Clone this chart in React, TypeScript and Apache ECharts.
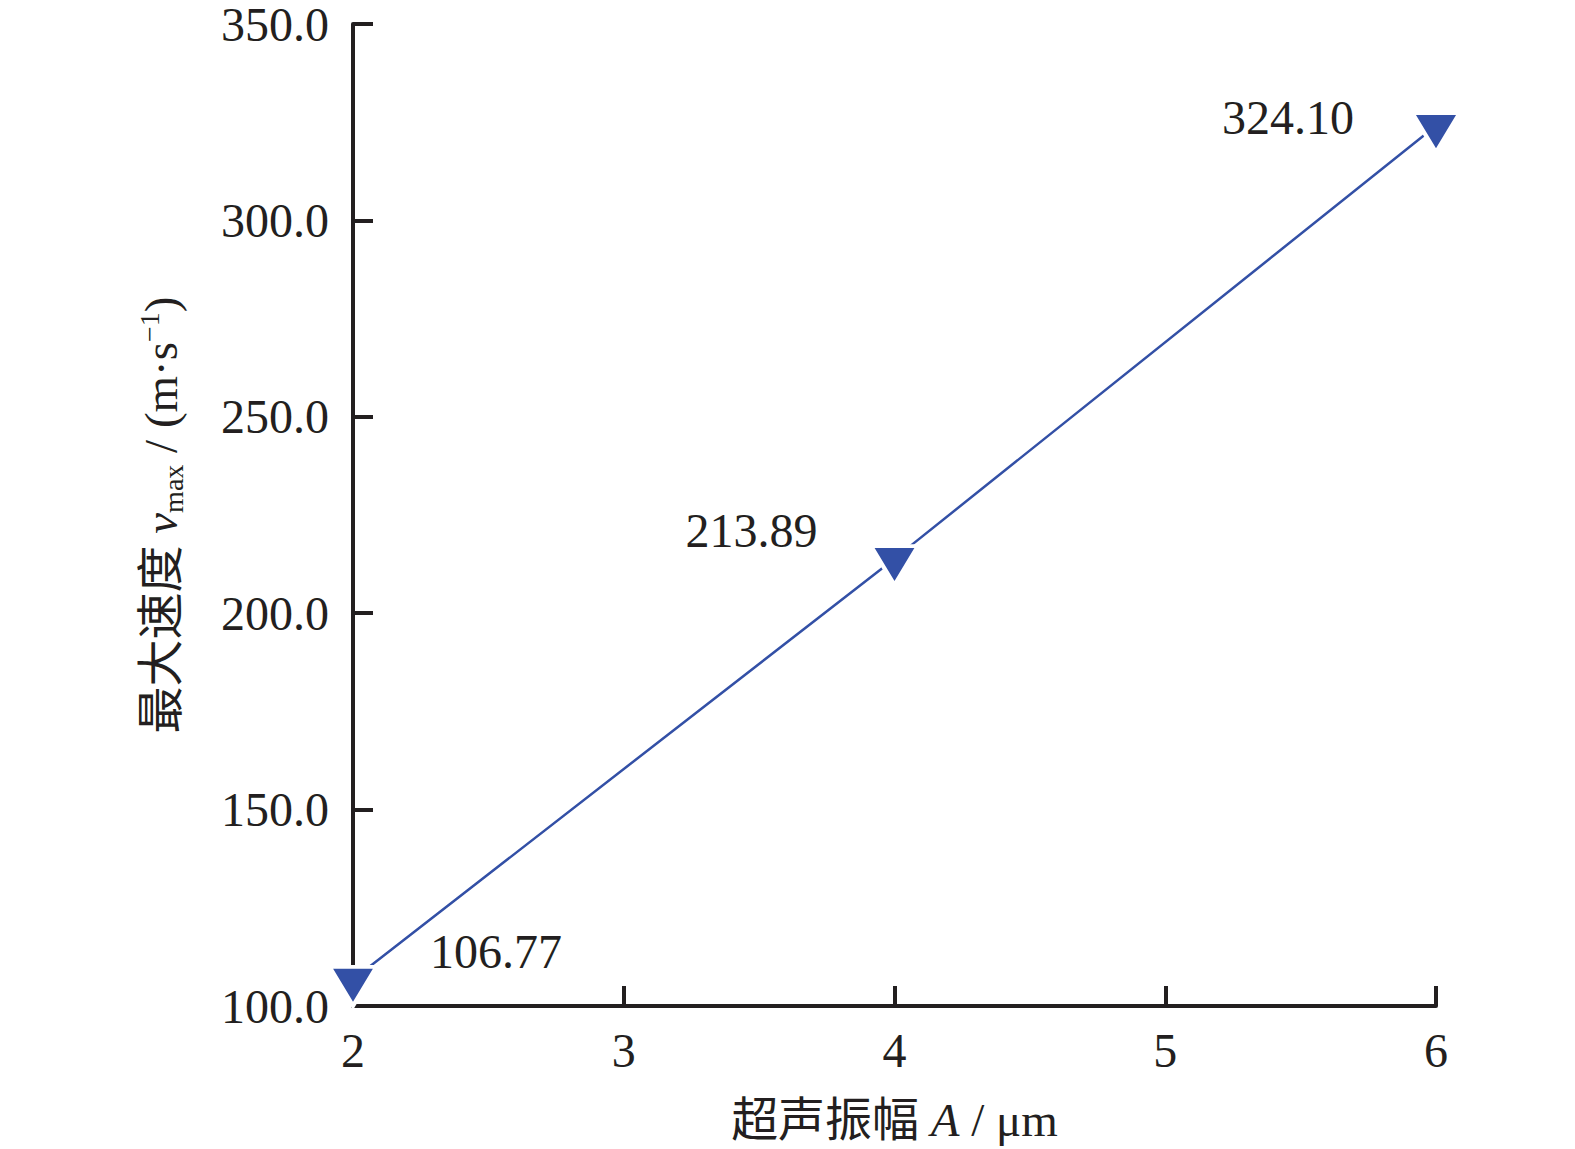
import React, { useEffect, useRef } from "react";
import * as echarts from "echarts";

const amplitudes = [2, 4, 6];
const vmax = [106.77, 213.89, 324.1];
const valueLabels = ["106.77", "213.89", "324.10"];
const labelOffsets = [
  [143, -35],
  [-143, -35],
  [-148, -15],
];

const INK = "#231f20";
const BLUE = "#3350a6";
const FONT = "'Liberation Serif', 'Noto Sans CJK SC', serif";

export default function App() {
  const ref = useRef<HTMLDivElement>(null);
  useEffect(() => {
    if (!ref.current) return;
    const chart = echarts.init(ref.current, undefined, { renderer: "svg" });
    const data = amplitudes.map((x, i) => ({
      value: [x, vmax[i]],
      label: {
        show: true,
        formatter: valueLabels[i],
        position: "inside",
        offset: labelOffsets[i],
      },
    }));
    chart.setOption({
      animation: false,
      backgroundColor: "#ffffff",
      grid: { left: 353, right: 139, top: 19, bottom: 143 },
      xAxis: {
        type: "value",
        min: 2,
        max: 6,
        interval: 1,
        splitLine: { show: false },
        axisLine: { lineStyle: { color: INK, width: 4 } },
        axisTick: { show: true, inside: true, length: 20, lineStyle: { color: INK, width: 4 } },
        axisLabel: { color: INK, fontSize: 48, fontFamily: FONT, margin: 20 },
        name: "{c|超声振幅 }{i|A}{c| / μm}",
        nameLocation: "middle",
        nameGap: 90,
        nameTextStyle: {
          rich: {
            c: { fontSize: 47, fontFamily: FONT, color: INK },
            i: { fontSize: 47, fontFamily: FONT, fontStyle: "italic", color: INK },
          },
        },
      },
      yAxis: {
        type: "value",
        min: 100,
        max: 350,
        interval: 50,
        splitLine: { show: false },
        axisLine: { lineStyle: { color: INK, width: 4 } },
        axisTick: { show: true, inside: true, length: 20, lineStyle: { color: INK, width: 4 } },
        axisLabel: {
          color: INK,
          fontSize: 48,
          lineHeight: 30,
          fontFamily: FONT,
          margin: 24,
          padding: [6, 0, 0, 0],
          formatter: (v: number) => v.toFixed(1),
        },
        name: "{c|最大速度 }{i|v}{sub|max}{c| / (m·s}{sup|−1}{c|)}",
        nameLocation: "middle",
        nameRotate: 90,
        nameGap: 166,
        nameTextStyle: {
          rich: {
            c: { fontSize: 47, fontFamily: FONT, color: INK },
            i: { fontSize: 47, fontFamily: FONT, fontStyle: "italic", color: INK },
            sub: { fontSize: 28, fontFamily: FONT, color: INK, padding: [24, 0, 0, 0] },
            sup: { fontSize: 28, fontFamily: FONT, color: INK, padding: [0, 0, 24, 0] },
          },
        },
      },
      series: [
        {
          type: "line",
          data,
          lineStyle: { color: BLUE, width: 2.5 },
          itemStyle: { color: BLUE, borderColor: "#ffffff", borderWidth: 4 },
          symbol: "path://M0,0 L47,0 L23.5,39 Z",
          symbolSize: [47, 39],
          symbolOffset: [0, 7],
          label: {
            color: INK,
            fontSize: 48,
            fontFamily: FONT,
          },
          z: 1,
        },
      ],
    });
    return () => chart.dispose();
  }, []);
  return (
    <div
      ref={ref}
      style={{ position: "fixed", left: 0, top: 0, width: 1575, height: 1149 }}
    />
  );
}
